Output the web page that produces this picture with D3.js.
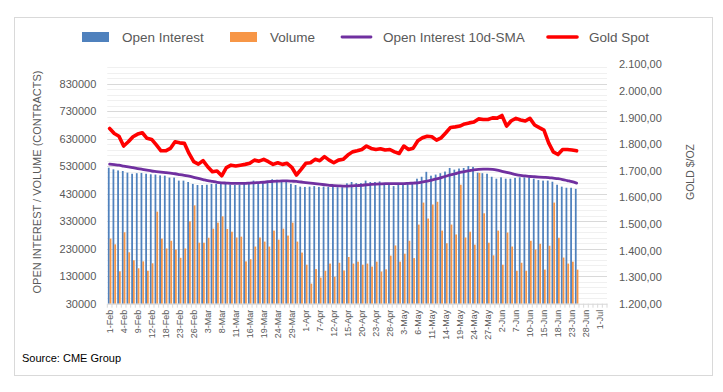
<!DOCTYPE html>
<html><head><meta charset="utf-8">
<script src="https://cdn.jsdelivr.net/npm/d3@7/dist/d3.min.js"></script>
<style>body{margin:0;background:#fff;}svg{display:block;font-family:"Liberation Sans",Arial,sans-serif;}</style>
</head><body><svg id="c" width="723" height="392"></svg>
<script>
const categories = [
"1-Feb","2-Feb","3-Feb","4-Feb","5-Feb","8-Feb","9-Feb","10-Feb","11-Feb","12-Feb","16-Feb","17-Feb","18-Feb","19-Feb","22-Feb","23-Feb","24-Feb","25-Feb","26-Feb",
"1-Mar","2-Mar","3-Mar","4-Mar","5-Mar","8-Mar","9-Mar","10-Mar","11-Mar","12-Mar","15-Mar","16-Mar","17-Mar","18-Mar","19-Mar","22-Mar","23-Mar","24-Mar","25-Mar","26-Mar","29-Mar","30-Mar","31-Mar",
"1-Apr","5-Apr","6-Apr","7-Apr","8-Apr","9-Apr","12-Apr","13-Apr","14-Apr","15-Apr","16-Apr","19-Apr","20-Apr","21-Apr","22-Apr","23-Apr","26-Apr","27-Apr","28-Apr","29-Apr","30-Apr",
"3-May","4-May","5-May","6-May","7-May","10-May","11-May","12-May","13-May","14-May","17-May","18-May","19-May","20-May","21-May","24-May","25-May","26-May","27-May","28-May",
"1-Jun","2-Jun","3-Jun","4-Jun","7-Jun","8-Jun","9-Jun","10-Jun","11-Jun","14-Jun","15-Jun","16-Jun","17-Jun","18-Jun","21-Jun","22-Jun","23-Jun","24-Jun","25-Jun","28-Jun","29-Jun","30-Jun",
"1-Jul","2-Jul"];

const openInterest = [
525000,519000,515000,513000,507000,503000,505000,506000,503000,501000,
500000,497000,496000,489000,489000,478000,478000,473000,466000,462000,
462000,463000,466000,466000,468000,466000,463000,462000,463000,466000,
466000,478000,473000,471000,478000,483000,481000,477000,474000,466000,
462000,456000,455000,456000,458000,455000,456000,455000,455000,454000,
454000,468000,473000,469000,469000,478000,473000,473000,475000,468000,
466000,458000,468000,468000,469000,473000,485000,492000,510000,496000,
500000,505000,511000,524000,518000,522000,524000,531000,528000,507000,
505000,503000,492000,485000,490000,485000,485000,488000,490000,490000,
490000,485000,480000,478000,478000,474000,463000,456000,452000,452000,
448000];

const volume = [
267000,246000,148000,290000,217000,188000,159000,184000,150000,177000,
365000,267000,231000,259000,227000,197000,231000,330000,388000,252000,
252000,270000,303000,325000,348000,302000,292000,271000,274000,184000,
192000,238000,271000,256000,238000,296000,263000,303000,278000,325000,
256000,216000,172000,103000,156000,125000,150000,176000,128000,179000,
151000,200000,176000,183000,172000,176000,165000,183000,147000,155000,
205000,242000,183000,212000,259000,196000,318000,398000,340000,391000,
401000,296000,250000,318000,282000,463000,271000,292000,245000,506000,
359000,252000,206000,296000,172000,289000,238000,150000,179000,150000,
259000,227000,248000,154000,241000,398000,270000,198000,176000,183000,
154000];

const oiSma10 = [
538000,536000,534000,531000,528000,525000,522000,519000,516000,513000,
511000,509000,507000,505000,503000,500000,497000,494000,490000,486000,
482000,478000,475000,472000,470000,469000,468000,468000,468000,468000,
469000,470000,471000,472000,474000,475000,476000,477000,477000,476000,
475000,473000,471000,469000,467000,465000,463000,461000,460000,459000,
458000,458000,459000,460000,461000,463000,464000,465000,466000,467000,
467000,467000,467000,467000,468000,469000,470000,473000,476000,480000,
484000,489000,494000,499000,503000,508000,511000,514000,517000,519000,
520000,520000,519000,516000,512000,508000,504000,500000,497000,495000,
493000,492000,491000,490000,489000,487000,485000,482000,478000,474000,
469000];

const goldSpot = [
1859,1840,1830,1793,1809,1828,1838,1843,1822,1818,
1797,1775,1775,1784,1809,1805,1803,1765,1734,1725,
1738,1715,1696,1699,1681,1712,1721,1718,1721,1724,
1728,1740,1736,1743,1734,1724,1730,1724,1728,1713,
1684,1705,1728,1730,1743,1738,1753,1740,1730,1740,
1743,1759,1771,1775,1780,1793,1784,1780,1783,1778,
1780,1771,1765,1793,1780,1785,1813,1824,1830,1828,
1815,1824,1843,1863,1865,1868,1876,1880,1883,1895,
1893,1893,1899,1898,1908,1868,1888,1897,1891,1887,
1897,1872,1862,1853,1805,1771,1761,1780,1780,1778,
1775];

const leftTicks = [30000,130000,230000,330000,430000,530000,630000,730000,830000];
const rightTicks = [1200,1300,1400,1500,1600,1700,1800,1900,2000,2100];
const seriesNames = ["Open Interest","Volume","Open Interest 10d-SMA","Gold Spot"];
const seriesColors = ["#4f81bd","#f79646","#7030a0","#ff0000"];

const svg = d3.select("#c");
const W = 723, H = 392;
const plot = {l:107.3, r:607, t:64.4, b:303.7};

// frame
svg.append("rect").attr("x",14.5).attr("y",17.5).attr("width",698).attr("height",358)
  .attr("fill","#fff").attr("stroke","#d9d9d9");

const x = d3.scaleBand().domain(categories).range([plot.l, plot.r]).paddingInner(0).paddingOuter(0);
const yL = d3.scaleLinear().domain([30000, 901000]).range([plot.b, plot.t]);
const yR = d3.scaleLinear().domain([1200, 2100]).range([plot.b, plot.t]);
const bw = x.bandwidth();

// gridlines: minor and major (left axis)
const minor = d3.range(30000, 901000, 20000);
svg.append("g").selectAll("line").data(minor).join("line")
  .attr("x1",plot.l).attr("x2",plot.r)
  .attr("y1",d=>Math.round(yL(d))+0.5).attr("y2",d=>Math.round(yL(d))+0.5)
  .attr("stroke","#f0f0f0");
svg.append("g").selectAll("line").data(leftTicks.slice(1)).join("line")
  .attr("x1",plot.l).attr("x2",plot.r)
  .attr("y1",d=>Math.round(yL(d))+0.5).attr("y2",d=>Math.round(yL(d))+0.5)
  .attr("stroke","#d9d9d9");

// bars
const barW = bw*0.38;
svg.append("g").selectAll("rect").data(openInterest).join("rect")
  .attr("x",(d,i)=>x(categories[i]) + bw/2 - barW)
  .attr("width",barW)
  .attr("y",d=>yL(d)).attr("height",d=>yL(30000)-yL(d))
  .attr("fill",seriesColors[0]);
svg.append("g").selectAll("rect").data(volume).join("rect")
  .attr("x",(d,i)=>x(categories[i]) + bw/2)
  .attr("width",barW)
  .attr("y",d=>yL(d)).attr("height",d=>yL(30000)-yL(d))
  .attr("fill",seriesColors[1]);

// x axis
const xAxis = d3.axisBottom(x).tickSize(0).tickValues(categories.filter((c,i)=>i%3===0));
const gx = svg.append("g").attr("transform",`translate(0,${plot.b})`).call(xAxis);
gx.select(".domain").attr("stroke","#d9d9d9");
gx.selectAll("text").attr("fill","#595959").style("font-size","9px")
  .attr("transform","rotate(-90)").attr("text-anchor","end")
  .attr("x",-6).attr("y",0).attr("dy","0.32em");
// category tick marks
svg.append("g").selectAll("line").data(categories.concat(["__end"])).join("line")
  .attr("x1",(d,i)=>plot.l + i*bw).attr("x2",(d,i)=>plot.l + i*bw)
  .attr("y1",plot.b).attr("y2",plot.b+4).attr("stroke","#d9d9d9");

// lines
const smaLine = d3.line().x((d,i)=>x(categories[i])+bw/2).y(d=>yL(d)).curve(d3.curveMonotoneX);
svg.append("path").datum(oiSma10).attr("d",smaLine).attr("fill","none")
  .attr("stroke",seriesColors[2]).attr("stroke-width",2.8).attr("stroke-linejoin","round").attr("stroke-linecap","round");
const goldLine = d3.line().x((d,i)=>x(categories[i])+bw/2).y(d=>yR(d));
svg.append("path").datum(goldSpot).attr("d",goldLine).attr("fill","none")
  .attr("stroke",seriesColors[3]).attr("stroke-width",3.6).attr("stroke-linejoin","round").attr("stroke-linecap","round");

// left axis
const gl = svg.append("g").attr("transform",`translate(${plot.l},0)`)
  .call(d3.axisLeft(yL).tickValues(leftTicks).tickSize(0).tickPadding(11).tickFormat(d3.format("d")));
gl.select(".domain").remove();
gl.selectAll("text").attr("fill","#595959").style("font-size","11px");

// right axis
const loc = d3.formatLocale({decimal:",",thousands:".",grouping:[3],currency:["",""]});
const gr = svg.append("g").attr("transform",`translate(${plot.r},0)`)
  .call(d3.axisRight(yR).tickValues(rightTicks).tickSize(0).tickPadding(12).tickFormat(loc.format(",.2f")));
gr.select(".domain").remove();
gr.selectAll("text").attr("fill","#595959").style("font-size","11px");

// axis titles
svg.append("text").attr("transform","translate(41,182) rotate(-90)").attr("text-anchor","middle")
  .attr("fill","#595959").style("font-size","11px").text("OPEN INTEREST / VOLUME (CONTRACTS)");
svg.append("text").attr("transform","translate(694,172) rotate(-90)").attr("text-anchor","middle")
  .attr("fill","#595959").style("font-size","10.5px").text("GOLD $/OZ");

// legend
const legX = [82, 230, 342, 548];
const lg = svg.append("g");
seriesNames.forEach((n,i)=>{
  const g = lg.append("g").attr("transform",`translate(${legX[i]},37)`);
  if(i<2) g.append("rect").attr("x",0).attr("y",-5).attr("width",27).attr("height",10).attr("fill",seriesColors[i]);
  else g.append("line").attr("x1",0).attr("x2",29).attr("y1",0).attr("y2",0)
        .attr("stroke",seriesColors[i]).attr("stroke-width",i===2?2.8:3.6).attr("stroke-linecap","round");
  g.append("text").attr("x",i<2?40:41).attr("y",0).attr("dy","0.35em")
    .attr("fill","#595959").style("font-size","13.5px").text(n);
});

// source
svg.append("text").attr("x",22).attr("y",362).attr("fill","#000").style("font-size","11px").text("Source: CME Group");
</script></body></html>
